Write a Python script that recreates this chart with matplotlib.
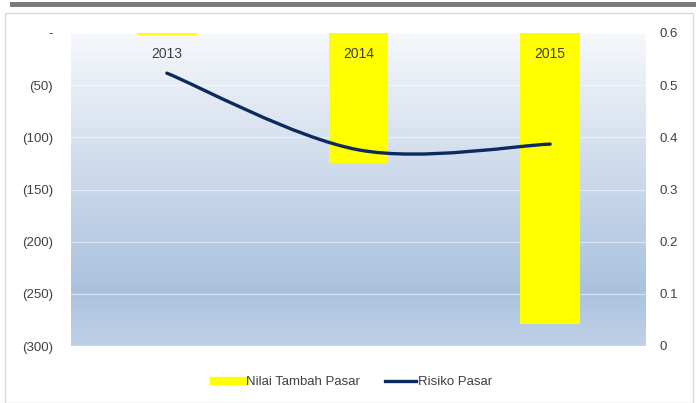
import numpy as np
import matplotlib.pyplot as plt
from matplotlib.path import Path
from matplotlib.patches import PathPatch, Rectangle
from matplotlib.lines import Line2D

years = ['2013', '2014', '2015']
nilai_tambah = [-2, -125, -279]
risiko = [0.523, 0.376, 0.387]

left_ticks = [0, -50, -100, -150, -200, -250, -300]
left_labels = ['-', '(50)', '(100)', '(150)', '(200)', '(250)', '(300)']
right_ticks = [0, 0.1, 0.2, 0.3, 0.4, 0.5, 0.6]

plt.rcParams['font.family'] = ['Liberation Sans', 'DejaVu Sans']
txt = '#404040'

fig = plt.figure(figsize=(6.96, 4.03), dpi=100)
W, H = 696, 403

# outer frame and the grey strip on top
fig.patches.append(Rectangle((5 / W, 0), 688 / W, 390 / H, transform=fig.transFigure,
                             facecolor='white', edgecolor='#d9d9d9', lw=1, zorder=-2))
fig.patches.append(Rectangle((10 / W, 396 / H), 686 / W, 5 / H, transform=fig.transFigure,
                             facecolor='#7a7a7a', edgecolor='none', zorder=-2))

ax = fig.add_axes([71 / W, 57 / H, 575 / W, 313 / H])
ax.set_facecolor('none')
x = np.arange(len(years))
ax.set_xlim(-0.5, 2.5)
ax.set_ylim(-300, 0)

# gradient background (light at top, darkest near the bottom, a bit lighter at the edge)
g = np.linspace(0, 1, 300)
stops = [0, 0.82, 1]
cols = np.array([[0.965, 0.972, 0.985], [0.67, 0.76, 0.87], [0.75, 0.82, 0.91]])
img = np.stack([np.interp(g, stops, cols[:, k]) for k in range(3)], axis=-1)[:, None, :]
ax.imshow(img, extent=[0, 1, 0, 1], transform=ax.transAxes, aspect='auto', zorder=0)

for t in left_ticks:
    ax.axhline(t, color='white', alpha=0.5, lw=0.9, zorder=1)

ax.bar(x, nilai_tambah, width=0.31, color='#ffff00', zorder=2)
for xi, yr in zip(x, years):
    ax.text(xi, -20, yr, ha='center', va='center', fontsize=10, color=txt, zorder=5)

ax.set_yticks(left_ticks)
ax.set_yticklabels(left_labels, fontsize=9.5, color=txt)
ax.set_xticks([])
ax.tick_params(axis='y', length=0, pad=13)
for s in ax.spines.values():
    s.set_visible(False)

ax2 = ax.twinx()
ax2.set_ylim(0, 0.6)
ax2.set_yticks(right_ticks)
ax2.set_yticklabels(['0', '0.1', '0.2', '0.3', '0.4', '0.5', '0.6'], fontsize=9.5, color=txt)
ax2.tick_params(axis='y', length=0, pad=10)
for s in ax2.spines.values():
    s.set_visible(False)

# smoothed line (Bezier through the points, like a spreadsheet smooth line)
pts = np.column_stack([x, risiko]).astype(float)
n = len(pts)
verts = [pts[0]]
codes = [Path.MOVETO]
for i in range(n - 1):
    p_prev = pts[i - 1] if i > 0 else pts[i]
    p_next = pts[i + 2] if i + 2 < n else pts[i + 1]
    c1 = pts[i] + (pts[i + 1] - p_prev) / 6
    c2 = pts[i + 1] - (p_next - pts[i]) / 6
    verts += [c1, c2, pts[i + 1]]
    codes += [Path.CURVE4] * 3
ax2.add_patch(PathPatch(Path(verts, codes), facecolor='none', edgecolor='#0d2a5e',
                        lw=2.4, capstyle='round', zorder=4))

handles = [Line2D([], [], color='#ffff00', lw=6),
           Line2D([], [], color='#0d2a5e', lw=2.4)]
fig.legend(handles, ['Nilai Tambah Pasar', 'Risiko Pasar'], loc='center',
           bbox_to_anchor=(0.507, 21 / H), ncol=2, frameon=False, fontsize=9.5,
           handlelength=2.3, handletextpad=0.15, columnspacing=1.9,
           labelcolor=txt)

fig.savefig('out.png', dpi=100)
